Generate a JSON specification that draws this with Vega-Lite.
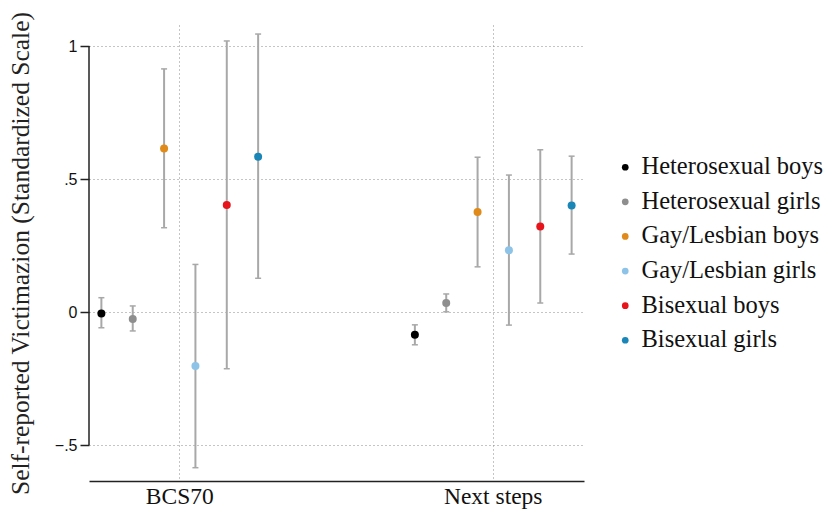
{
  "$schema": "https://vega.github.io/schema/vega-lite/v6.json",
  "width": 495,
  "height": 456,
  "autosize": "none",
  "padding": {"left": 89, "top": 25, "right": 248, "bottom": 28},
  "background": "white",
  "config": {
    "view": {"stroke": null},
    "font": "Liberation Serif",
    "axisY": {
      "domain": false,
      "tickSize": 9,
      "tickColor": "#222222",
      "tickWidth": 1.5,
      "labelFont": "Liberation Sans",
      "labelFontSize": 16,
      "labelColor": "#111111",
      "labelPadding": 3,
      "grid": true,
      "gridDash": [1, 3],
      "gridColor": "#8a8a8a",
      "gridWidth": 1,
      "titleFont": "Liberation Serif",
      "titleFontSize": 25.5,
      "titleFontWeight": "normal",
      "titleColor": "#222222",
      "titlePadding": 21,
      "titleLimit": 0
    },
    "axisX": {
      "domain": true,
      "domainColor": "#222222",
      "domainWidth": 1.6,
      "ticks": false,
      "labelFont": "Liberation Serif",
      "labelFontSize": 23.5,
      "labelColor": "#111111",
      "labelAngle": 0,
      "labelPadding": 3,
      "labelLimit": 0,
      "grid": true,
      "gridDash": [1, 3],
      "gridColor": "#8a8a8a",
      "gridWidth": 1,
      "bandPosition": 0.5
    }
  },
  "data": {
    "values": [
      {"wave": "BCS70", "group": "Heterosexual boys", "est": -0.005, "lo": -0.059, "hi": 0.054},
      {"wave": "BCS70", "group": "Heterosexual girls", "est": -0.026, "lo": -0.071, "hi": 0.023},
      {"wave": "BCS70", "group": "Gay/Lesbian boys", "est": 0.615, "lo": 0.317, "hi": 0.914},
      {"wave": "BCS70", "group": "Gay/Lesbian girls", "est": -0.203, "lo": -0.585, "hi": 0.179},
      {"wave": "BCS70", "group": "Bisexual boys", "est": 0.402, "lo": -0.213, "hi": 1.019},
      {"wave": "BCS70", "group": "Bisexual girls", "est": 0.584, "lo": 0.127, "hi": 1.045},
      {"wave": "Next steps", "group": "Heterosexual boys", "est": -0.085, "lo": -0.123, "hi": -0.048},
      {"wave": "Next steps", "group": "Heterosexual girls", "est": 0.034, "lo": 0.001, "hi": 0.068},
      {"wave": "Next steps", "group": "Gay/Lesbian boys", "est": 0.376, "lo": 0.170, "hi": 0.582},
      {"wave": "Next steps", "group": "Gay/Lesbian girls", "est": 0.232, "lo": -0.049, "hi": 0.515},
      {"wave": "Next steps", "group": "Bisexual boys", "est": 0.322, "lo": 0.034, "hi": 0.610},
      {"wave": "Next steps", "group": "Bisexual girls", "est": 0.401, "lo": 0.218, "hi": 0.586}
    ]
  },
  "encoding": {
    "x": {
      "field": "wave",
      "type": "nominal",
      "sort": ["BCS70", "Next steps"],
      "scale": {"type": "band", "paddingInner": 0.5, "paddingOuter": 0.0395},
      "axis": {"title": null}
    },
    "xOffset": {
      "field": "group",
      "type": "nominal",
      "sort": ["Heterosexual boys", "Heterosexual girls", "Gay/Lesbian boys", "Gay/Lesbian girls", "Bisexual boys", "Bisexual girls"],
      "scale": {"type": "point", "padding": 0}
    }
  },
  "layer": [
    {
      "mark": {"type": "rule", "color": "#a8a8a8", "strokeWidth": 2},
      "encoding": {
        "y": {
          "field": "lo",
          "type": "quantitative",
          "scale": {"domain": [-0.635, 1.079], "nice": false, "zero": false},
          "title": "Self-reported Victimazion (Standardized Scale)",
          "axis": {"values": [-0.5, 0, 0.5, 1], "labelExpr": "replace(format(datum.value, ''), '0.', '.')"}
        },
        "y2": {"field": "hi"}
      }
    },
    {
      "mark": {"type": "tick", "color": "#a8a8a8", "size": 6, "thickness": 1.5, "opacity": 1},
      "encoding": {
        "y": {"field": "lo", "type": "quantitative", "title": "Self-reported Victimazion (Standardized Scale)"}
      }
    },
    {
      "mark": {"type": "tick", "color": "#a8a8a8", "size": 6, "thickness": 1.5, "opacity": 1},
      "encoding": {
        "y": {"field": "hi", "type": "quantitative", "title": "Self-reported Victimazion (Standardized Scale)"}
      }
    },
    {
      "mark": {"type": "circle", "size": 64, "opacity": 1},
      "encoding": {
        "y": {"field": "est", "type": "quantitative", "title": "Self-reported Victimazion (Standardized Scale)"},
        "color": {
          "field": "group",
          "type": "nominal",
          "scale": {
            "domain": ["Heterosexual boys", "Heterosexual girls", "Gay/Lesbian boys", "Gay/Lesbian girls", "Bisexual boys", "Bisexual girls"],
            "range": ["#000000", "#8e8e8e", "#e08a1a", "#8ec3e8", "#e8141c", "#1a86b8"]
          },
          "legend": {
            "title": null,
            "orient": "none",
            "legendX": 524,
            "legendY": 130,
            "padding": 0,
            "labelFont": "Liberation Serif",
            "labelFontSize": 24.5,
            "labelColor": "#111111",
            "labelLimit": 0,
            "symbolType": "circle",
            "symbolSize": 45,
            "symbolStrokeWidth": 0,
            "rowPadding": 9.6,
            "labelOffset": 4
          }
        }
      }
    },
    {
      "data": {"values": [{"from": -0.5, "to": 1}]},
      "mark": {"type": "rule", "color": "#222222", "strokeWidth": 1.5},
      "encoding": {
        "x": {"value": 0},
        "xOffset": null,
        "y": {"field": "from", "type": "quantitative", "title": "Self-reported Victimazion (Standardized Scale)"},
        "y2": {"field": "to"}
      }
    }
  ]
}
